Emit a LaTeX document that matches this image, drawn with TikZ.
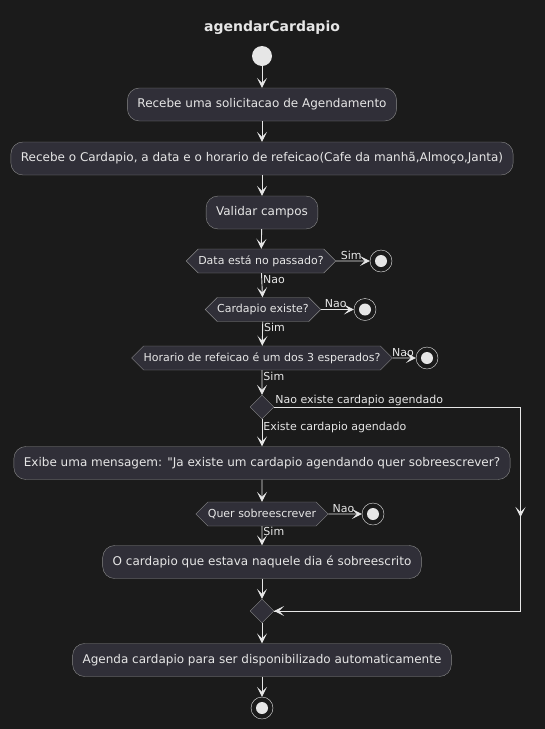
\documentclass[tikz,border=0pt]{standalone}
\usepackage{fontspec}
\setmainfont{DejaVu Sans}[Ligatures=TeXOff]
\usetikzlibrary{arrows.meta,shapes.symbols,shapes.geometric}
\definecolor{bgdark}{HTML}{1B1B1B}
\definecolor{boxfill}{HTML}{302F38}
\definecolor{boxline}{HTML}{8A8A8A}
\definecolor{inklight}{HTML}{E6E6E6}
\begin{document}
\begin{tikzpicture}[x=1pt,y=-1pt,
  act/.style={draw=boxline,fill=boxfill,rounded corners=12pt,text=inklight,
    minimum height=33pt,inner xsep=10pt,font=\fontsize{12}{14}\selectfont},
  cond/.style={draw=boxline,fill=boxfill,signal,signal to=east and west,
    signal pointer angle=90,text=inklight,minimum height=24pt,inner xsep=0pt,
    inner ysep=3pt,font=\fontsize{11}{13}\selectfont},
  merge/.style={draw=boxline,fill=boxfill,diamond,minimum size=24pt,inner sep=0pt},
  startdot/.style={circle,fill=inklight,minimum size=20pt,inner sep=0pt},
  enddot/.style={circle,draw=inklight,fill=bgdark,minimum size=22pt,inner sep=0pt,
    path picture={\fill[inklight] (path picture bounding box.center) circle (6pt);}},
  lbl/.style={text=inklight,font=\fontsize{11}{13}\selectfont,inner sep=1pt},
  flow/.style={draw=inklight,line width=0.9pt,
    -{Stealth[length=10pt,width=10pt,inset=5pt]}}]
\fill[bgdark] (0,0) rectangle (545,729);
\useasboundingbox (0,0) rectangle (545,729);

\node[text=inklight,font=\fontsize{14}{16}\selectfont\bfseries] (0) at (272,28) {agendarCardapio};
\node[startdot] (1) at (262,56) {};
\node[act] (2) at (262,104.5) {Recebe uma solicitacao de Agendamento};
\node[act] (3) at (262,158.5) {Recebe o Cardapio, a data e o horario de refeicao(Cafe da manhã,Almoço,Janta)};
\node[act] (4) at (262,212.5) {Validar campos};
\node[cond] (5) at (261,261) {Data está no passado?};
\node[enddot] (6) at (381,261) {};
\node[cond] (7) at (263,309.5) {Cardapio existe?};
\node[enddot] (8) at (365,309.5) {};
\node[cond] (9) at (262,358) {Horario de refeicao é um dos 3 esperados?};
\node[enddot] (10) at (427,358) {};
\node[merge] (11) at (262,407) {};
\node[act] (12) at (262,463) {Exibe uma mensagem: "Ja existe um cardapio agendando quer sobreescrever?};
\node[cond] (13) at (262,514) {Quer sobreescrever};
\node[enddot] (14) at (373,514) {};
\node[act] (15) at (262,562) {O cardapio que estava naquele dia é sobreescrito};
\node[merge] (16) at (262,611) {};
\node[act] (17) at (262,660) {Agenda cardapio para ser disponibilizado automaticamente};
\node[enddot] (18) at (262,708) {};
\coordinate (c1) at (520.5,407);
\coordinate (c2) at (520.5,517);
\coordinate (c3) at (520.5,611);

\path[flow] (1) -- (2);
\path[flow] (2) -- (3);
\path[flow] (3) -- (4);
\path[flow] (4) -- (5);
\path[flow] (5) -- node[lbl,above,pos=0.45] {Sim} (6);
\path[flow] (5) -- node[lbl,right,pos=0.25] {Nao} (7);
\path[flow] (7) -- node[lbl,above,pos=0.45] {Nao} (8);
\path[flow] (7) -- node[lbl,right,pos=0.25] {Sim} (9);
\path[flow] (9) -- node[lbl,above,pos=0.45] {Nao} (10);
\path[flow] (9) -- node[lbl,right,pos=0.25] {Sim} (11);
\path[flow] (11) -- node[lbl,right,pos=0.3] {Existe cardapio agendado} (12);
\path[flow] (12) -- (13);
\path[flow] (13) -- node[lbl,above,pos=0.45] {Nao} (14);
\path[flow] (13) -- node[lbl,right,pos=0.25] {Sim} (15);
\path[flow] (15) -- (16);
\path[flow] (16) -- (17);
\path[flow] (17) -- (18);

\path[draw=inklight,line width=0.9pt] (11.east) -- (c1) -- (c3) -- (16.east);
\path[flow] (c1) -- (c2);
\path[flow] (c3) -- (16.east);
\node[lbl,anchor=south west] at (11.east) {Nao existe cardapio agendado};
\end{tikzpicture}
\end{document}
